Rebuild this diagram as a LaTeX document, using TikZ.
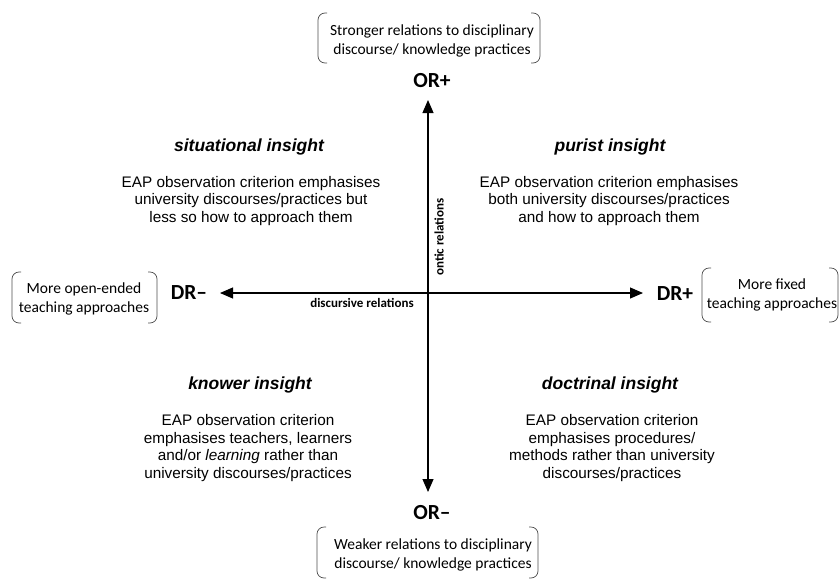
\documentclass[tikz,border=0pt]{standalone}
\usepackage{fontspec}
\setmainfont{Liberation Sans}
\newfontfamily\calfont{Carlito}
\usetikzlibrary{arrows.meta}
\tikzset{
  x=1pt, y=-1pt,
  quadhead/.style={font=\fontsize{17.5}{20}\selectfont\bfseries\itshape, anchor=center, inner sep=0pt},
  quadtext/.style={font=\fontsize{15.3}{17.6}\selectfont, align=center, anchor=center, inner sep=0pt},
  axislabel/.style={font=\calfont\fontsize{21.5}{24}\selectfont\bfseries, inner sep=0pt},
  boxtext/.style={font=\calfont\fontsize{15.5}{19.5}\selectfont, align=center, inner sep=0pt},
  axisname/.style={font=\calfont\fontsize{13}{15}\selectfont\bfseries, inner sep=0pt},
  bracket/.style={draw=black!70, line width=0.7pt, rounded corners=7pt},
  axisarrow/.style={line width=1.1pt, -{Triangle[length=13pt,width=11pt]}},
}
\begin{document}
\begin{tikzpicture}
\useasboundingbox (0,0) rectangle (839,579);
% centre and axis ends
\coordinate (c) at (428,293);
\coordinate (top) at (428,100);
\coordinate (bot) at (428,492);
\coordinate (left) at (220,293);
\coordinate (right) at (643,293);
\draw[axisarrow] (c) -- (top);
\draw[axisarrow] (c) -- (bot);
\draw[axisarrow] (c) -- (left);
\draw[axisarrow] (c) -- (right);

\node[axisname] (dlab) at (362,303) {discursive relations};
\node[axisname, rotate=90] (olab) at (439,237) {ontic relations};

% axis labels
\node[axislabel] (orp) at (432,81) {OR+};
\node[axislabel] (orm) at (432,513) {OR–};
\node[axislabel] (drm) at (189,293) {DR–};
\node[axislabel] (drp) at (675,294) {DR+};

% bracket boxes
\node[boxtext] (tbox) at (432,41) {Stronger relations to disciplinary\\discourse/ knowledge practices};
\draw[bracket] (327,13) -- (318,13) -- (318,63) -- (327,63);
\draw[bracket] (531,13) -- (540,13) -- (540,63) -- (531,63);

\node[boxtext] (bbox) at (433,555) {Weaker relations to disciplinary\\discourse/ knowledge practices};
\draw[bracket] (326,527) -- (317,527) -- (317,578) -- (326,578);
\draw[bracket] (529,527) -- (538,527) -- (538,578) -- (529,578);

\node[boxtext] (lbox) at (84,299) {More open-ended\\teaching approaches};
\draw[bracket] (21,272) -- (12,272) -- (12,323) -- (21,323);
\draw[bracket] (148,272) -- (157,272) -- (157,323) -- (148,323);

\node[boxtext] (rbox) at (772,295) {More fixed\\teaching approaches};
\draw[bracket] (711,268) -- (702,268) -- (702,322) -- (711,322);
\draw[bracket] (829,268) -- (838,268) -- (838,322) -- (829,322);

% quadrants
\node[quadhead] (sh) at (249,147) {situational insight};
\node[quadtext] (st) at (251,201) {EAP observation criterion emphasises\\university discourses/practices but\\less so how to approach them};

\node[quadhead] (ph) at (610,147) {purist insight};
\node[quadtext] (pt) at (609,201) {EAP observation criterion emphasises\\both university discourses/practices\\and how to approach them};

\node[quadhead] (kh) at (250,385) {knower insight};
\node[quadtext] (kt) at (248,448) {EAP observation criterion\\emphasises teachers, learners\\and/or \textit{learning} rather than\\university discourses/practices};

\node[quadhead] (dh) at (610,385) {doctrinal insight};
\node[quadtext] (dt) at (612,448) {EAP observation criterion\\emphasises procedures/\\methods rather than university\\discourses/practices};
\end{tikzpicture}
\end{document}
